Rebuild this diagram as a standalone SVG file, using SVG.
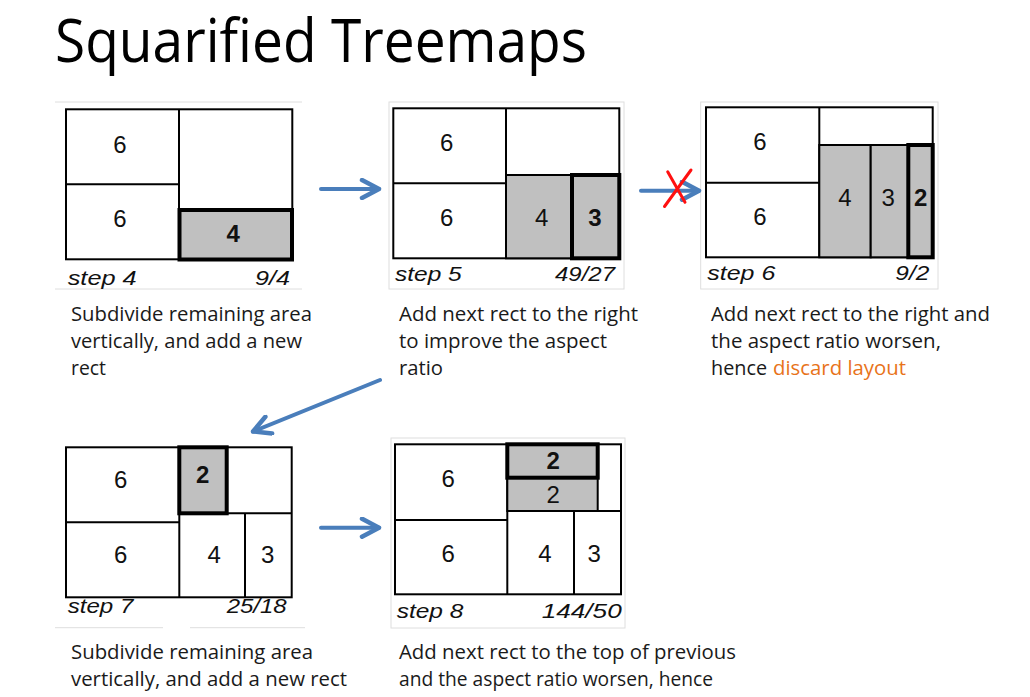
<svg xmlns="http://www.w3.org/2000/svg" width="1030" height="697" viewBox="0 0 1030 697">
<style>
.title{font-family:"Open Sans","Liberation Sans",sans-serif;font-size:60px;fill:#000}
.body{font-family:"Open Sans","Liberation Sans",sans-serif;font-size:20px;fill:#1a1a1a}
.hl{fill:#E8731A}
.num{font-family:"Liberation Sans",Arial,sans-serif;font-size:24px;fill:#111;text-anchor:middle}
.b{font-weight:bold}
.lab{font-family:"Liberation Sans",Arial,sans-serif;font-size:21px;font-style:italic;fill:#111}
.end{text-anchor:end}
.frame{fill:none;stroke:#dedede;stroke-width:1}
.box{fill:#fff;stroke:#000;stroke-width:2}
.ln{stroke:#000;stroke-width:2;fill:none}
.sh{fill:#c0c0c0;stroke:#000;stroke-width:2}
.thick{fill:#c0c0c0;stroke:#000;stroke-width:4}
.arrow{stroke:#4A7EBB;stroke-width:4;fill:none;stroke-linecap:round;marker-end:url(#ah)}
.cross{stroke:#FF1010;stroke-width:3;fill:none;stroke-linecap:round}
</style>
<defs>
<marker id="ah" markerUnits="userSpaceOnUse" viewBox="0 0 24 22" markerWidth="24" markerHeight="22" refX="20" refY="11" orient="auto">
<path d="M3,2 L20,11 L3,20" fill="none" stroke="#4A7EBB" stroke-width="4.5" stroke-linecap="round" stroke-linejoin="round"/>
</marker>
</defs>
<rect width="1030" height="697" fill="#fff"/>
<text class="title" x="55" y="62" textLength="532" lengthAdjust="spacingAndGlyphs">Squarified Treemaps</text>

<g id="step4">
<line class="frame" x1="55" y1="102" x2="302" y2="102"/>
<line class="frame" x1="55" y1="289" x2="302" y2="289"/>
<rect class="box" x="66" y="109.3" width="226.3" height="150"/>
<line class="ln" x1="179" y1="109.3" x2="179" y2="259.3"/>
<line class="ln" x1="66" y1="184.3" x2="179" y2="184.3"/>
<rect class="thick" x="179.5" y="210" width="112.5" height="49.5"/>
<text class="num" x="120" y="153.3">6</text>
<text class="num" x="120" y="226.7">6</text>
<text class="num b" x="233.3" y="242.3">4</text>
<text class="lab" x="67.7" y="285" textLength="69" lengthAdjust="spacingAndGlyphs">step 4</text>
<text class="lab end" x="290" y="285" textLength="35" lengthAdjust="spacingAndGlyphs">9/4</text>
</g>

<g id="step5">
<rect class="frame" x="389" y="102" width="235" height="187"/>
<rect class="box" x="393.3" y="108.3" width="226" height="150"/>
<line class="ln" x1="506" y1="108.3" x2="506" y2="258.3"/>
<line class="ln" x1="393.3" y1="183.3" x2="506" y2="183.3"/>
<rect class="sh" x="506" y="175" width="66" height="83.3"/>
<rect class="thick" x="572" y="175" width="47.3" height="83.3"/>
<text class="num" x="446.7" y="150.7">6</text>
<text class="num" x="446.7" y="225.7">6</text>
<text class="num" x="541.7" y="225.7">4</text>
<text class="num b" x="595" y="225.7">3</text>
<text class="lab" x="395" y="281" textLength="66.7" lengthAdjust="spacingAndGlyphs">step 5</text>
<text class="lab end" x="615" y="281" textLength="60" lengthAdjust="spacingAndGlyphs">49/27</text>
</g>

<g id="step6">
<rect class="frame" x="700.7" y="102" width="237.3" height="187"/>
<rect class="box" x="706" y="107.3" width="226.7" height="150"/>
<line class="ln" x1="819.3" y1="107.3" x2="819.3" y2="257.3"/>
<line class="ln" x1="706" y1="182.7" x2="819.3" y2="182.7"/>
<rect class="sh" x="819.3" y="145" width="51.4" height="112.3"/>
<rect class="sh" x="870.7" y="145" width="37.6" height="112.3"/>
<rect class="thick" x="908.3" y="145" width="24.4" height="112.3"/>
<text class="num" x="760" y="150">6</text>
<text class="num" x="760" y="225">6</text>
<text class="num" x="845" y="205.7">4</text>
<text class="num" x="888.3" y="205.7">3</text>
<text class="num b" x="920.7" y="205.7">2</text>
<text class="lab" x="707.3" y="280" textLength="68" lengthAdjust="spacingAndGlyphs">step 6</text>
<text class="lab end" x="929.3" y="280" textLength="34" lengthAdjust="spacingAndGlyphs">9/2</text>
</g>

<g id="step7">
<line class="frame" x1="55" y1="627.7" x2="163" y2="627.7"/>
<line class="frame" x1="190" y1="627.7" x2="305" y2="627.7"/>
<rect class="box" x="66" y="447.3" width="225.7" height="150"/>
<line class="ln" x1="179.3" y1="447.3" x2="179.3" y2="597.3"/>
<line class="ln" x1="66" y1="522.3" x2="179.3" y2="522.3"/>
<line class="ln" x1="179.3" y1="513.3" x2="291.7" y2="513.3"/>
<line class="ln" x1="245" y1="513.3" x2="245" y2="597.3"/>
<rect class="thick" x="179.3" y="447.3" width="47.4" height="66"/>
<text class="num" x="120.7" y="488.3">6</text>
<text class="num" x="120.7" y="563.3">6</text>
<text class="num b" x="202.7" y="483.3">2</text>
<text class="num" x="214.3" y="563.3">4</text>
<text class="num" x="267.7" y="563.3">3</text>
<text class="lab" x="67.7" y="613.3" textLength="65.7" lengthAdjust="spacingAndGlyphs">step 7</text>
<text class="lab end" x="286.7" y="613.3" textLength="60" lengthAdjust="spacingAndGlyphs">25/18</text>
</g>

<g id="step8">
<rect class="frame" x="391" y="438" width="234" height="190"/>
<rect class="box" x="395" y="444.3" width="226" height="150"/>
<line class="ln" x1="507.3" y1="444.3" x2="507.3" y2="594.3"/>
<line class="ln" x1="395" y1="520" x2="507.3" y2="520"/>
<line class="ln" x1="507.3" y1="511" x2="621" y2="511"/>
<line class="ln" x1="574" y1="511" x2="574" y2="594.3"/>
<rect class="sh" x="507.3" y="477.7" width="90.4" height="33.3"/>
<rect class="thick" x="507.3" y="444.3" width="90.4" height="33.4"/>
<text class="num" x="448.3" y="487.3">6</text>
<text class="num" x="448.3" y="561.7">6</text>
<text class="num b" x="553.3" y="469.3">2</text>
<text class="num" x="553.3" y="502.7">2</text>
<text class="num" x="545" y="561.7">4</text>
<text class="num" x="594.3" y="561.7">3</text>
<text class="lab" x="396.7" y="617.7" textLength="66.7" lengthAdjust="spacingAndGlyphs">step 8</text>
<text class="lab end" x="621.7" y="617.7" textLength="80" lengthAdjust="spacingAndGlyphs">144/50</text>
</g>

<g id="desc4">
<text class="body" x="71" y="321" textLength="241" lengthAdjust="spacingAndGlyphs">Subdivide remaining area</text>
<text class="body" x="71" y="348" textLength="231" lengthAdjust="spacingAndGlyphs">vertically, and add a new</text>
<text class="body" x="71" y="375" textLength="35" lengthAdjust="spacingAndGlyphs">rect</text>
</g>
<g id="desc5">
<text class="body" x="399" y="321" textLength="239" lengthAdjust="spacingAndGlyphs">Add next rect to the right</text>
<text class="body" x="399" y="348" textLength="208" lengthAdjust="spacingAndGlyphs">to improve the aspect</text>
<text class="body" x="399" y="375" textLength="44" lengthAdjust="spacingAndGlyphs">ratio</text>
</g>
<g id="desc6">
<text class="body" x="711" y="321" textLength="279" lengthAdjust="spacingAndGlyphs">Add next rect to the right and</text>
<text class="body" x="711" y="348" textLength="230" lengthAdjust="spacingAndGlyphs">the aspect ratio worsen,</text>
<text class="body" y="375"><tspan x="711" textLength="56" lengthAdjust="spacingAndGlyphs">hence</tspan><tspan class="hl" x="773" textLength="133" lengthAdjust="spacingAndGlyphs">discard layout</tspan></text>
</g>
<g id="desc7">
<text class="body" x="71" y="659" textLength="242" lengthAdjust="spacingAndGlyphs">Subdivide remaining area</text>
<text class="body" x="71" y="686" textLength="276" lengthAdjust="spacingAndGlyphs">vertically, and add a new rect</text>
</g>
<g id="desc8">
<text class="body" x="399" y="659" textLength="337" lengthAdjust="spacingAndGlyphs">Add next rect to the top of previous</text>
<text class="body" x="399" y="686" textLength="314" lengthAdjust="spacingAndGlyphs">and the aspect ratio worsen, hence</text>
</g>

<g id="connectors">
<line class="arrow" x1="321" y1="189" x2="379" y2="189"/>
<line class="arrow" x1="641" y1="190.7" x2="699" y2="190.7"/>
<line class="arrow" x1="380" y1="380" x2="253" y2="431.5"/>
<line class="arrow" x1="321" y1="527.7" x2="379" y2="527.7"/>
<line class="cross" x1="691" y1="170" x2="664.5" y2="206.5"/>
<line class="cross" x1="667.7" y1="171.7" x2="685" y2="202.3"/>
</g>
</svg>
